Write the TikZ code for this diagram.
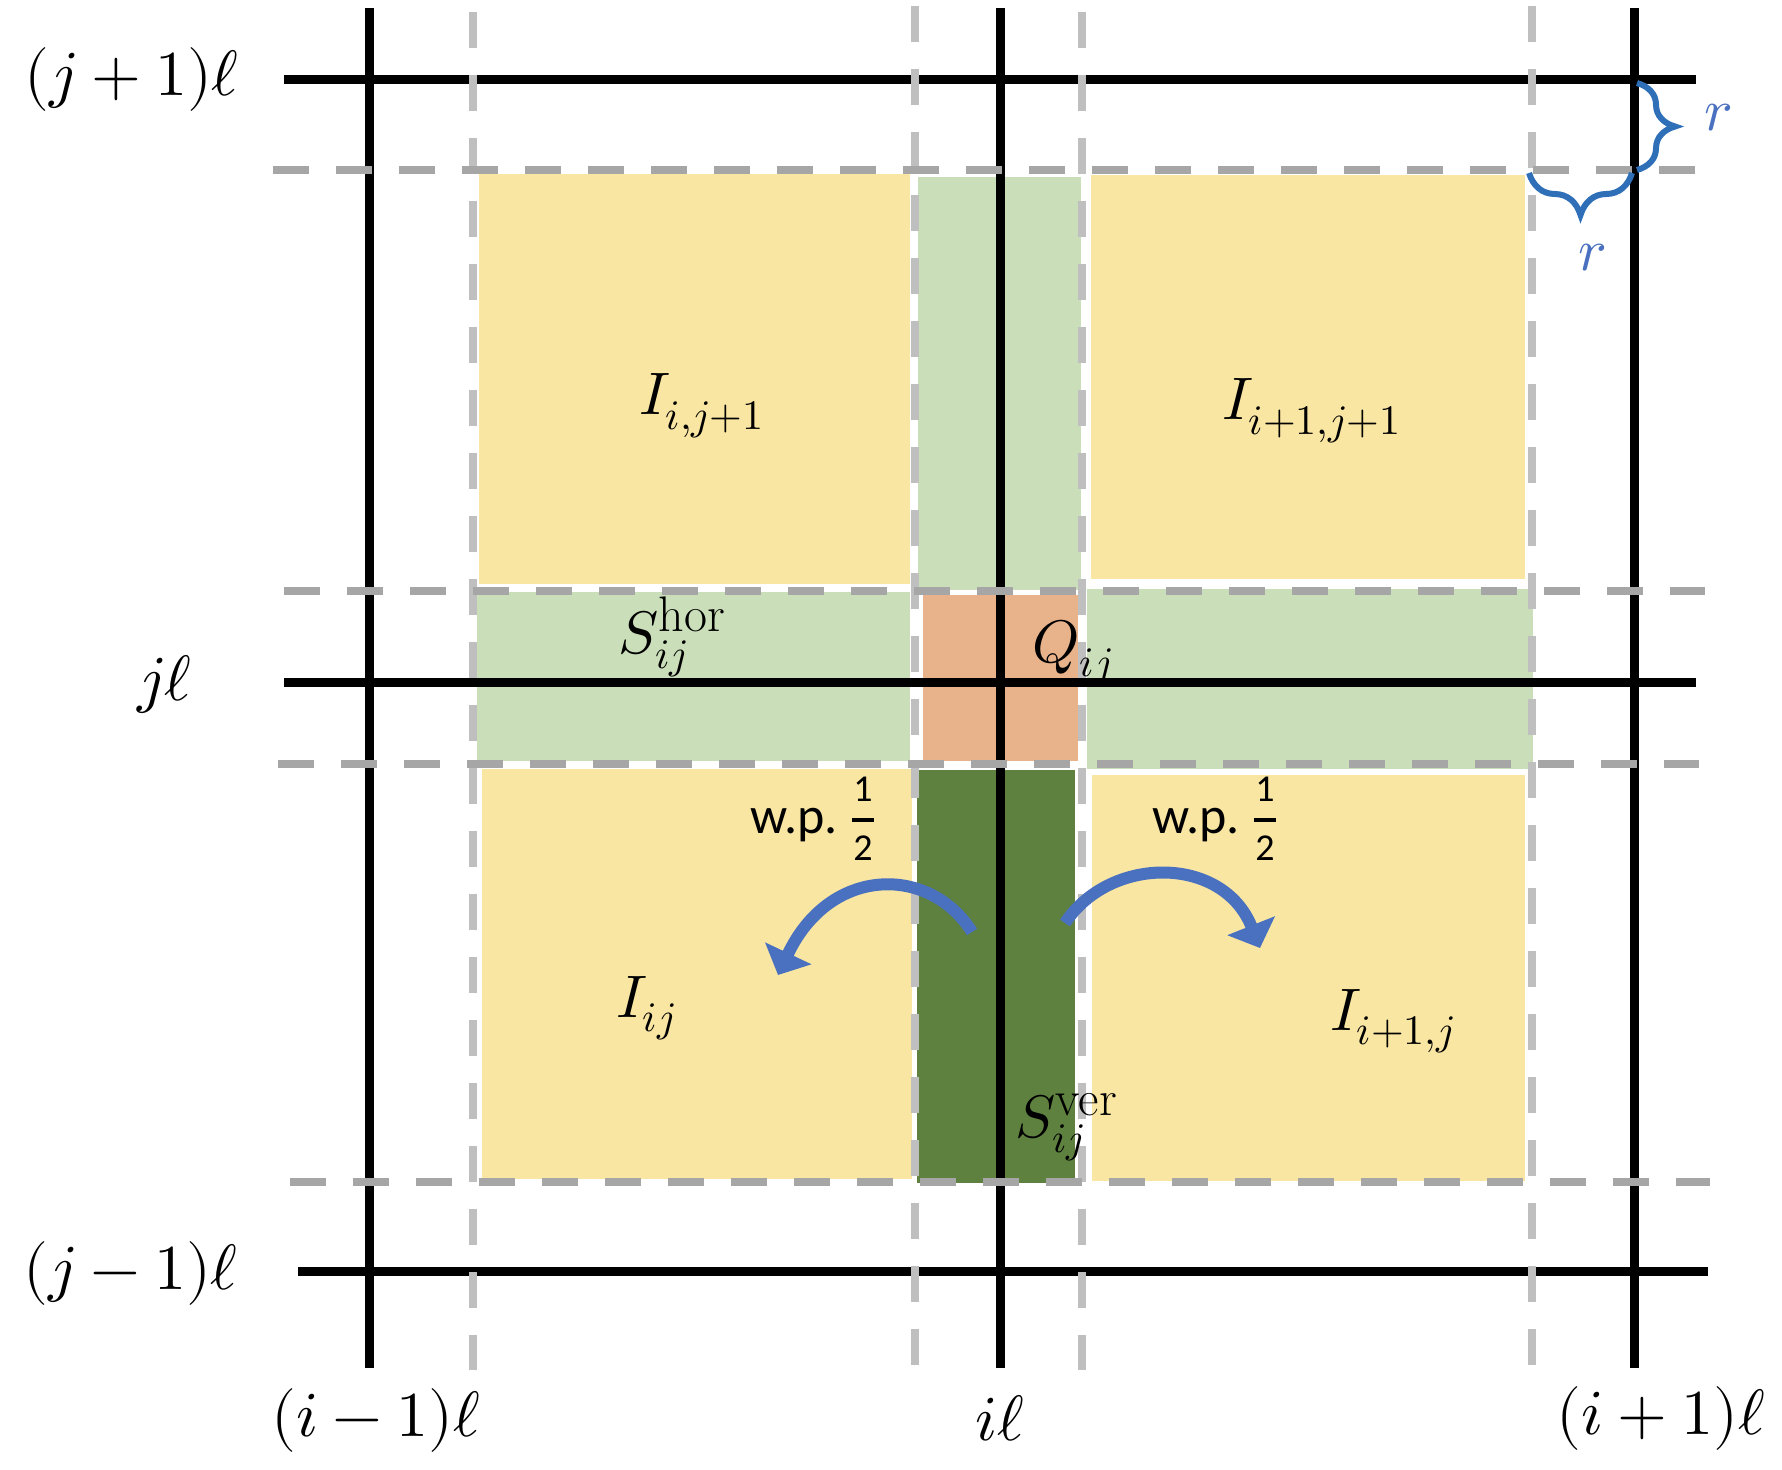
\documentclass[tikz,border=0pt]{standalone}
\usepackage{amsmath}
\usepackage{unicode-math}
\setmathfont{Latin Modern Math}
\newfontfamily\wpfont{Carlito}
\usetikzlibrary{arrows.meta,decorations.pathreplacing}
\definecolor{yel}{HTML}{F9E6A3}
\definecolor{lgreen}{HTML}{CADFB9}
\definecolor{dgreen}{HTML}{5E813F}
\definecolor{qorange}{HTML}{E8B38A}
\definecolor{gh}{HTML}{A6A6A6}
\definecolor{gv}{HTML}{BFBFBF}
\definecolor{arrcol}{HTML}{4A70C0}
\definecolor{bracecol}{HTML}{2E6FB7}
\definecolor{rcol}{HTML}{4A70C0}
\newcommand{\suptxt}[1]{\mbox{\fontsize{25}{25}\selectfont #1}}
\newcommand{\wpdigit}[1]{\mbox{\wpfont\fontsize{19}{19}\selectfont\makebox[11pt]{#1}}}
\newcommand{\wphalf}{$\genfrac{}{}{2pt}{1}{\wpdigit{1}\rule[-7pt]{0pt}{7pt}}{\wpdigit{2}\rule{0pt}{18pt}}$}
\tikzset{
  blk/.style={line width=4.5pt, draw=black},
  dsh/.style={line width=4pt, dash pattern=on 18pt off 13.5pt},
  dshh/.style={dsh, draw=gh},
  dshv/.style={dsh, draw=gv},
  region/.style={draw=white, line width=1.5pt},
  lab/.style={inner sep=0pt, font=\fontsize{30}{36}\selectfont},
  axlab/.style={inner sep=0pt, font=\fontsize{32}{36}\selectfont},
  wplab/.style={inner sep=0pt, font=\wpfont\fontsize{26}{30}\selectfont},
  brc/.style={decorate, decoration={brace, amplitude=#1}, draw=bracecol, line width=3pt},
  arr/.style={line width=6pt, draw=arrcol, -{Triangle[length=12pt,width=25pt]}}
}
\begin{document}
\begin{tikzpicture}[x=0.5pt,y=-0.5pt]
\useasboundingbox (0,0) rectangle (1782,1470);
% regions
\fill[yel,region] (477,173) rectangle (911,585);
\fill[lgreen,region] (916,176) rectangle (1082,591);
\fill[yel,region] (1089,174) rectangle (1526,580);
\fill[lgreen,region] (475,590) rectangle (911,762);
\fill[qorange,region] (921,593) rectangle (1079,762);
\fill[lgreen,region] (1085,587) rectangle (1534,770);
\fill[yel,region] (480,767) rectangle (913,1180);
\fill[dgreen,region] (915,768) rectangle (1076,1184);
\fill[yel,region] (1090,773) rectangle (1526,1182);
% black grid
\draw[blk] (369,8) -- (369,1368);
\draw[blk] (1000,8) -- (1000,1368);
\draw[blk] (1634,8) -- (1634,1368);
\draw[blk] (284,80) -- (1696,80);
\draw[blk] (284,682) -- (1696,682);
\draw[blk] (298,1271) -- (1708,1271);
% dashed grid
\draw[dshv] (473,12) -- (473,1370);
\draw[dshv] (915,6) -- (915,1366);
\draw[dshv] (1082,12) -- (1082,1370);
\draw[dshv] (1532,6) -- (1532,1366);
\draw[dshh] (273,170) -- (1700,170);
\draw[dshh] (284,591) -- (1705,591);
\draw[dshh] (278,764) -- (1699,764);
\draw[dshh] (290,1182) -- (1710,1182);
% braces
\draw[brc=19pt] (1637,83) -- (1637,170);
\draw[brc=21pt] (1632,173) -- (1529,173);
\node[lab, text=rcol] (rA) at (1718,118) {$r$};
\node[lab, text=rcol] (rB) at (1592,258) {$r$};
% axis labels
\node[axlab] (jp) at (132,80) {$(j+1)\ell$};
\node[axlab] (j0) at (165,684) {$j\ell$};
\node[axlab] (jm) at (131,1273) {$(j-1)\ell$};
\node[axlab] (im) at (376,1420) {$(i-1)\ell$};
\node[axlab] (i0) at (1000,1418) {$i\ell$};
\node[axlab] (ip) at (1661,1418) {$(i+1)\ell$};
% region labels
\node[lab, anchor=base west] (Iijp) at (639,415) {$I_{i,j+1}$};
\node[lab, anchor=base west] (Iipjp) at (1222,420) {$I_{i+1,j+1}$};
\node[lab, anchor=base west] (Iij) at (616,1017) {$I_{ij}$};
\node[lab, anchor=base west] (Iipj) at (1330,1030) {$I_{i+1,j}$};
\node[lab, anchor=base west] (Shor) at (618,653) {$S_{ij}^{\suptxt{hor}}$};
\node[lab, anchor=base west] (Q) at (1032,662) {$Q_{ij}$};
\node[lab, anchor=base west] (Sver) at (1015,1137) {$S_{ij}^{\suptxt{ver}}$};
% w.p. labels
\node[wplab, anchor=base west] (wpL) at (750,833) {w.p.\ \wphalf};
\node[wplab, anchor=base west] (wpR) at (1152,833) {w.p.\ \wphalf};
% arrows
\coordinate (aLs) at (972,932);
\coordinate (aLe) at (778,975);
\coordinate (aRs) at (1065,923);
\coordinate (aRe) at (1260,948);
\draw[arr] (aLs) .. controls (930,865) and (830,865) .. (aLe);
\draw[arr] (aRs) .. controls (1110,855) and (1223,855) .. (aRe);
\end{tikzpicture}
\end{document}
